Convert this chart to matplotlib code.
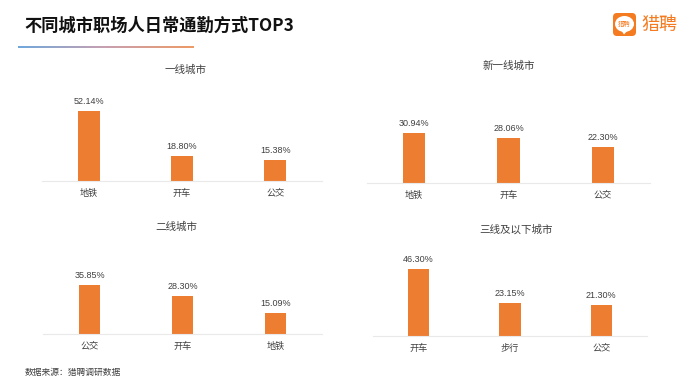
import numpy as np
import matplotlib
matplotlib.use("Agg")
import matplotlib.pyplot as plt
from matplotlib.colors import LinearSegmentedColormap
from matplotlib.patches import FancyBboxPatch, Ellipse, Polygon

plt.rcParams['font.family'] = ['Noto Sans CJK SC', 'DejaVu Sans']

W, H = 691, 389
ORANGE = "#ED7D31"
GREY = "#404040"

title = "不同城市职场人日常通勤方式TOP3"
source = "数据来源：猎聘调研数据"

titles = ["一线城市", "新一线城市", "二线城市", "三线及以下城市"]
cats1 = ["地铁", "开车", "公交"]
cats2 = ["地铁", "开车", "公交"]
cats3 = ["公交", "开车", "地铁"]
cats4 = ["开车", "步行", "公交"]
vals1 = [52.14, 18.80, 15.38]
vals2 = [30.94, 28.06, 22.30]
vals3 = [35.85, 28.30, 15.09]
vals4 = [46.30, 23.15, 21.30]

# left, right, baseline y, pixels per percent, title x, title y (picture pixels)
boxes = [
    (42, 322, 181, 1.343, 186, 70),
    (367, 650, 183, 1.616, 509, 66),
    (43, 322, 334, 1.36, 176, 227),
    (373, 647, 336, 1.44, 516, 229),
]


def panel(fig, box, name, cats, vals):
    l, r, base, scale, tx, ty = box
    top = base - 90
    ax = fig.add_axes([l / W, 1 - base / H, (r - l) / W, (base - top) / H])
    x = np.arange(len(cats))
    ax.bar(x, vals, width=0.235, color=ORANGE)
    ax.set_xlim(-0.5, 2.5)
    ax.set_ylim(0, 90 / scale)
    ax.patch.set_alpha(0)
    for s in ["top", "left", "right"]:
        ax.spines[s].set_visible(False)
    ax.spines["bottom"].set_color("#E9E9E9")
    ax.spines["bottom"].set_linewidth(0.8)
    ax.set_yticks([])
    ax.set_xticks(x)
    ax.set_xticklabels(cats, fontsize=6.6, color=GREY)
    ax.tick_params(axis="x", length=0, pad=5.5)
    for i, v in enumerate(vals):
        ax.annotate("%.2f%%" % v, (x[i], v), xytext=(0, 3.6), textcoords="offset points",
                    ha="center", va="bottom", fontsize=6.5, color=GREY,
                    family=["Liberation Sans"])
    fig.text(tx / W, 1 - ty / H, name, ha="center", va="center",
             fontsize=7.6, color=GREY)


fig = plt.figure(figsize=(W / 100, H / 100), dpi=100, facecolor="white")

# overlay in pixel coordinates for the header decoration and logo
deco = fig.add_axes([0, 0, 1, 1])
deco.axis("off")

cmap = LinearSegmentedColormap.from_list("rule", ["#6FA8DC", "#C9A0B0", "#ED9A66"])
deco.imshow(np.linspace(0, 1, 256).reshape(1, -1), cmap=cmap, aspect="auto",
            extent=(18, 194, 48, 46.6))
deco.set_xlim(0, W)
deco.set_ylim(H, 0)

deco.text(24, 26, title, fontsize=12.4, fontweight="bold", color="#111111",
          ha="left", va="center")
deco.text(25, 372, source, fontsize=6.3, color=GREY, ha="left", va="center")

deco.add_patch(FancyBboxPatch((616, 16), 17, 17, boxstyle="round,pad=3,rounding_size=4",
                              fc="#F47B20", ec="none"))
deco.add_patch(Ellipse((624.5, 24), 19, 16, fc="white", ec="none"))
deco.add_patch(Polygon([[621, 30], [628, 30], [624, 34.5]], fc="white", ec="none"))
deco.text(624.5, 24, "猎聘", fontsize=4.6, color="#F47B20", ha="center", va="center")
deco.text(659.5, 25, "猎聘", fontsize=13, fontweight="medium", color="#F47B20",
          ha="center", va="center")

panel(fig, boxes[0], titles[0], cats1, vals1)
panel(fig, boxes[1], titles[1], cats2, vals2)
panel(fig, boxes[2], titles[2], cats3, vals3)
panel(fig, boxes[3], titles[3], cats4, vals4)

fig.savefig("out.png", dpi=100)
